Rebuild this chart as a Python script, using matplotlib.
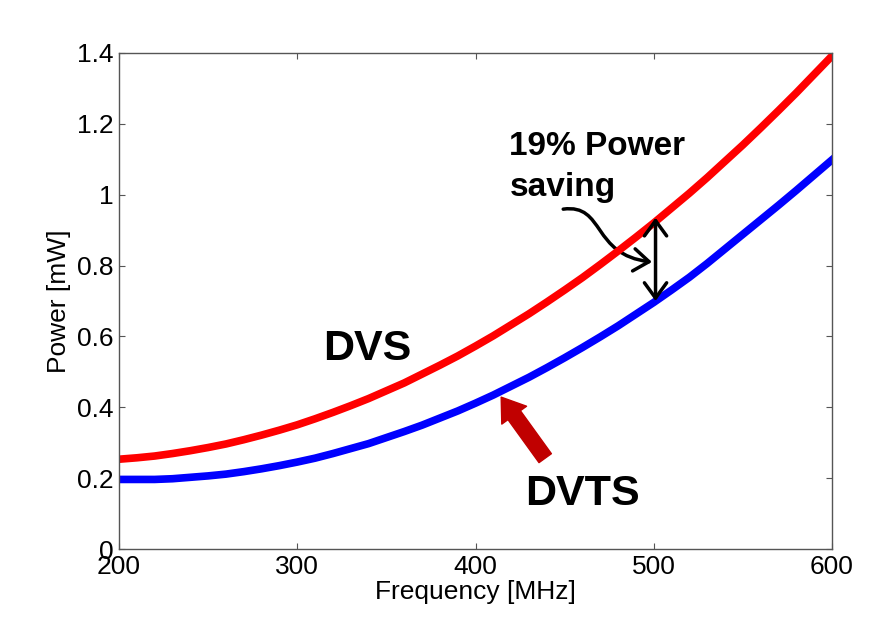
import matplotlib
matplotlib.use('Agg')
from matplotlib import pyplot as plt
from matplotlib.patches import FancyArrowPatch
from matplotlib.path import Path

plt.rcParams['font.family'] = ['Liberation Sans', 'DejaVu Sans']

# frequency [MHz] and power [mW]
freq = [200, 210, 220, 230, 240, 250, 260, 270, 280, 290,
        300, 310, 320, 330, 340, 350, 360, 370, 380, 390,
        400, 410, 420, 430, 440, 450, 460, 470, 480, 490,
        500, 510, 520, 530, 540, 550, 560, 570, 580, 590, 600]
dvs = [0.254, 0.258, 0.263, 0.270, 0.278, 0.287, 0.297, 0.309, 0.322, 0.336,
       0.351, 0.368, 0.386, 0.405, 0.425, 0.447, 0.469, 0.494, 0.519, 0.545,
       0.573, 0.602, 0.633, 0.664, 0.697, 0.731, 0.766, 0.803, 0.841, 0.880,
       0.920, 0.962, 1.004, 1.048, 1.094, 1.140, 1.188, 1.237, 1.287, 1.339, 1.391]
dvts = [0.197, 0.197, 0.197, 0.199, 0.203, 0.207, 0.212, 0.219, 0.227, 0.236,
        0.246, 0.257, 0.270, 0.284, 0.298, 0.315, 0.332, 0.350, 0.370, 0.390,
        0.412, 0.435, 0.460, 0.485, 0.512, 0.540, 0.569, 0.599, 0.630, 0.663,
        0.696, 0.731, 0.767, 0.806, 0.847, 0.888, 0.929, 0.970, 1.012, 1.055, 1.098]

xticks = [200, 300, 400, 500, 600]
yticks = [0, 0.2, 0.4, 0.6, 0.8, 1, 1.2, 1.4]
ytick_labels = ['0', '0.2', '0.4', '0.6', '0.8', '1', '1.2', '1.4']

fig = plt.figure(figsize=(8.95, 6.43), dpi=100)
ax = fig.add_axes([0.133, 0.1457, 0.7966, 0.7723])

ax.plot(freq, dvs, color='#ff0000', lw=5.5, solid_joinstyle='round')
ax.plot(freq, dvts, color='#0000ff', lw=5.5, solid_joinstyle='round')

ax.set_xlim(200, 600)
ax.set_ylim(0, 1.4)
ax.set_xticks(xticks)
ax.set_yticks(yticks)
ax.set_yticklabels(ytick_labels)
ax.tick_params(direction='in', length=4.5, width=0.8, labelsize=19,
               top=True, right=True, colors='#555555', labelcolor='black', pad=4)
for s in ax.spines.values():
    s.set_color('#555555')
    s.set_linewidth(1.0)

ax.set_xlabel('Frequency [MHz]', fontsize=19, labelpad=1)
ax.set_ylabel('Power [mW]', fontsize=19, labelpad=4)

# labels on the curves
ax.text(339, 0.534, 'DVS', fontsize=31, fontweight='bold', ha='center', va='baseline')
ax.text(460, 0.125, 'DVTS', fontsize=31, fontweight='bold', ha='center', va='baseline')
ax.text(419, 1.112, '19% Power', fontsize=24, fontweight='bold', ha='left', va='baseline')
ax.text(419, 0.997, 'saving', fontsize=24, fontweight='bold', ha='left', va='baseline')

# double arrow for the gap at 500 MHz
ax.annotate('', xy=(501, 0.935), xytext=(501, 0.700),
            arrowprops=dict(arrowstyle='<->,head_length=0.55,head_width=0.4',
                            color='black', lw=2.5, shrinkA=0, shrinkB=0,
                            mutation_scale=20))

# curved pointer from the text to the double arrow
curve = Path([(449.2, 0.959), (472.8, 0.975), (465.0, 0.830), (499.0, 0.810)],
             [Path.MOVETO, Path.CURVE4, Path.CURVE4, Path.CURVE4])
ax.add_patch(FancyArrowPatch(path=curve, arrowstyle='->,head_length=0.55,head_width=0.4',
                             color='black', lw=2.5, mutation_scale=20))

# fat red arrow pointing at DVTS curve
ax.annotate('', xy=(414.4, 0.429), xytext=(439.1, 0.257),
            arrowprops=dict(arrowstyle='simple,head_length=0.8,head_width=1.1,tail_width=0.55',
                            color='#c00000', shrinkA=0, shrinkB=0, mutation_scale=20))

fig.savefig('out.png', dpi=100)
